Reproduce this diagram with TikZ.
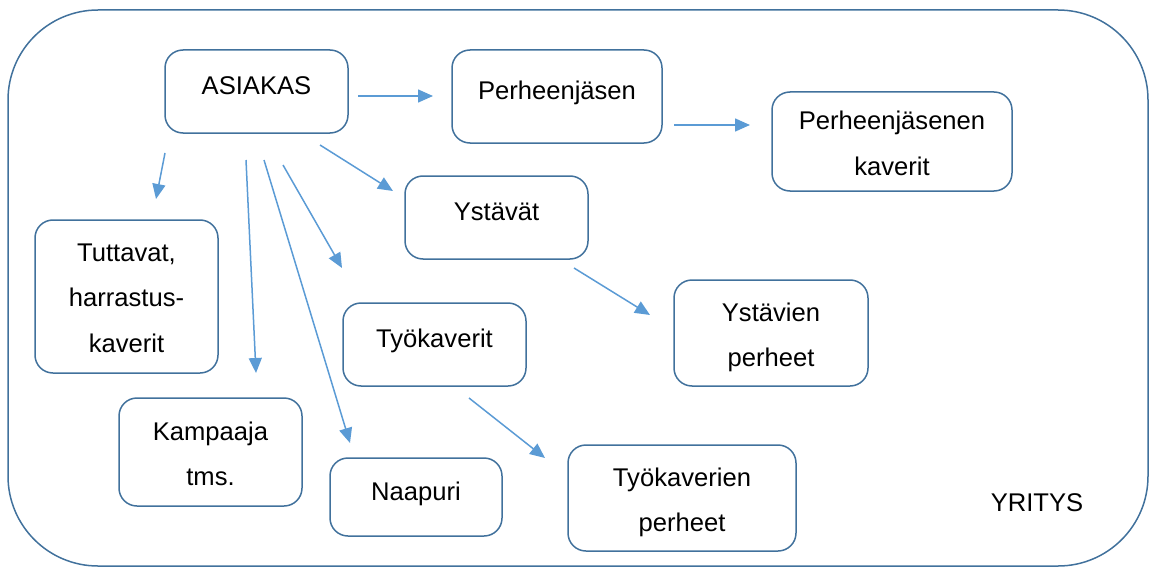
\documentclass[tikz,border=0pt]{standalone}
\usepackage{fontspec}
\setmainfont{Liberation Sans}
\usetikzlibrary{arrows.meta}
\definecolor{frameblue}{HTML}{41719C}
\definecolor{arrowblue}{HTML}{5B9BD5}

\begin{document}
\begin{tikzpicture}[x=0.5pt, y=-0.5pt, >={Triangle[length=7.5pt, width=6.5pt]},
                    every node/.style={black, font=\fontsize{12.8}{22.7}\selectfont},
                    box/.style={draw=frameblue, line width=0.75pt, rounded corners=9pt,
                                align=center, inner sep=0pt, text height=9pt, text depth=5.8pt},
                    twolines/.style={text height=33.6pt, text depth=0pt},
                    threelines/.style={text height=55.5pt, text depth=0pt},
                    link/.style={arrowblue, line width=0.75pt, ->}]

  \useasboundingbox (0,0) rectangle (1150,567);

  %% YRITYS: the outer frame
  \draw[frameblue, line width=0.75pt, rounded corners=45pt] (8,10) rectangle (1148,566);
  \node (yritys) at (1037,503) {YRITYS};

  %% boxes
  \node[box, minimum width=91.5pt, minimum height=41.5pt] (asiakas) at (256.5,91.5) {ASIAKAS};
  \node[box, minimum width=105pt, minimum height=46.5pt] (perhe) at (557,96.5) {Perheenjäsen};
  \node[box, twolines, minimum width=120pt, minimum height=49.5pt] (perhekav) at (892,141.5) {Perheenjäsenen\\kaverit};
  \node[box, minimum width=91.5pt, minimum height=41.5pt] (ystavat) at (496.5,217.5) {Ystävät};
  \node[box, threelines, minimum width=91.5pt, minimum height=76.5pt] (tuttavat) at (126.5,296.5) {Tuttavat,\\harrastus-\\kaverit};
  \node[box, twolines, minimum width=97pt, minimum height=53pt] (ystper) at (771,333) {Ystävien\\perheet};
  \node[box, minimum width=91.5pt, minimum height=41.5pt] (tyokav) at (434.5,344.5) {Työkaverit};
  \node[box, twolines, minimum width=91.5pt, minimum height=54pt] (kampaaja) at (210.5,452) {Kampaaja\\tms.};
  \node[box, minimum width=86pt, minimum height=39pt] (naapuri) at (416,497) {Naapuri};
  \node[box, twolines, minimum width=114pt, minimum height=53pt] (tyoper) at (682,498) {Työkaverien\\perheet};

  %% free arrow ends
  \coordinate (asiakas-perhe-a) at (358,96);   \coordinate (asiakas-perhe-b) at (433,96);
  \coordinate (perhe-perhekav-a) at (674,125); \coordinate (perhe-perhekav-b) at (750,125);
  \coordinate (asiakas-tutt-a) at (165,153);   \coordinate (asiakas-tutt-b) at (156,199);
  \coordinate (asiakas-ystav-a) at (320,145);  \coordinate (asiakas-ystav-b) at (393,191);
  \coordinate (asiakas-kamp-a) at (246,160);   \coordinate (asiakas-kamp-b) at (256,373);
  \coordinate (asiakas-naap-a) at (264,160);   \coordinate (asiakas-naap-b) at (350,443);
  \coordinate (asiakas-tyok-a) at (283,165);   \coordinate (asiakas-tyok-b) at (342,268);
  \coordinate (ystav-ystper-a) at (574,268);   \coordinate (ystav-ystper-b) at (650,315);
  \coordinate (tyok-tyoper-a) at (469,398);    \coordinate (tyok-tyoper-b) at (545,458);

  %% arrows
  \foreach \c in {asiakas-perhe, perhe-perhekav, asiakas-tutt, asiakas-ystav,
                  asiakas-kamp, asiakas-naap, asiakas-tyok, ystav-ystper, tyok-tyoper}
    \draw[link] (\c-a) -- (\c-b);

\end{tikzpicture}
\end{document}
